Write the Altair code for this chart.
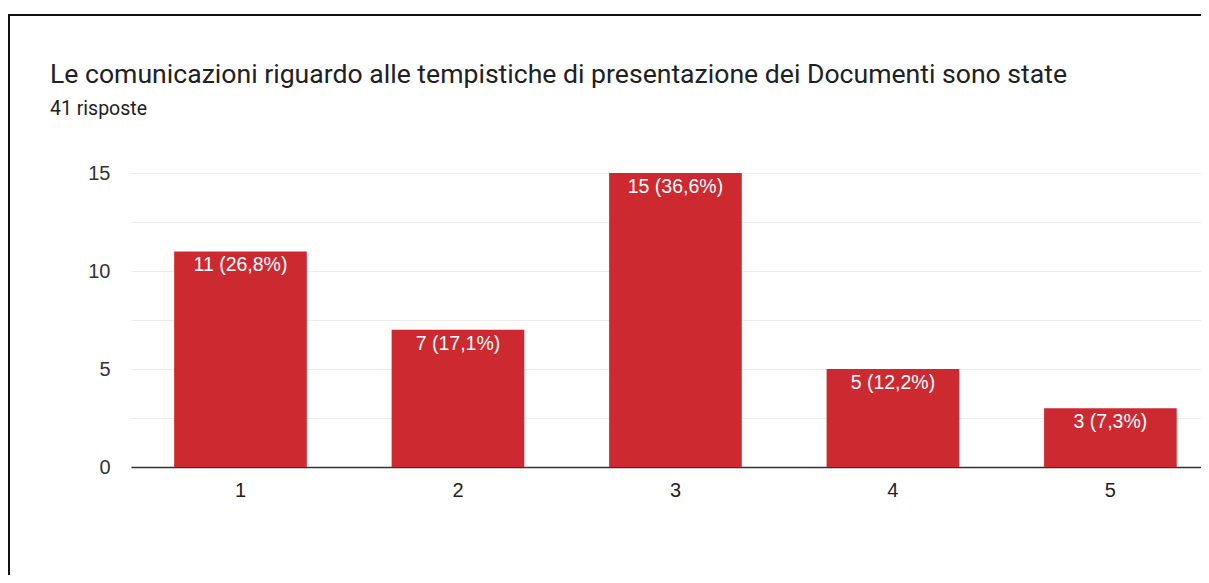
import altair as alt
import pandas as pd

categories = ["1", "2", "3", "4", "5"]
counts = [11, 7, 15, 5, 3]
labels = ["11 (26,8%)", "7 (17,1%)", "15 (36,6%)", "5 (12,2%)", "3 (7,3%)"]
title_text = "Le comunicazioni riguardo alle tempistiche di presentazione dei Documenti sono state"
subtitle_text = "41 risposte"

df = pd.DataFrame({"cat": categories, "n": counts, "lab": labels})

AX_FONT = "Liberation Sans"
RED = "#cc2a30"

x = alt.X("cat:N", title=None, sort=categories,
          scale=alt.Scale(paddingInner=0.39, paddingOuter=0.155, align=0.64),
          axis=alt.Axis(labelAngle=0, ticks=False, domainColor="#333333", domainWidth=1.5,
                        labelPadding=13, labelFontSize=20, labelColor="#222222",
                        labelFont=AX_FONT, labelBaseline="top"))
y = alt.Y("n:Q", title=None,
          scale=alt.Scale(domain=[0, 15], nice=False),
          axis=alt.Axis(values=[0, 2.5, 5, 7.5, 10, 12.5, 15], domain=False, ticks=False,
                        labelExpr="datum.value % 5 == 0 ? datum.label : ''",
                        labelPadding=21, labelFontSize=20, labelColor="#333333",
                        labelFont=AX_FONT, gridColor="#ebebeb", gridWidth=1))

base = alt.Chart(df)

bars = base.mark_bar(color=RED).encode(x=x, y=y)

text = base.mark_text(color="white", baseline="top", dy=5, fontSize=19.5, font=AX_FONT).encode(
    x=alt.X("cat:N", sort=categories), y="n:Q", text="lab:N")

one = pd.DataFrame({"t": [title_text], "s": [subtitle_text]})

border = alt.Chart(one).mark_rect(
    fill="transparent", stroke="#111111", strokeWidth=2, clip=False).encode(
    x=alt.value(-122), y=alt.value(-158), x2=alt.value(1300), y2=alt.value(700))

title = alt.Chart(one).mark_text(
    align="left", baseline="alphabetic", font="Roboto", fontSize=26.6, color="#202124").encode(
    x=alt.value(-81), y=alt.value(-90), text="t:N")

subtitle = alt.Chart(one).mark_text(
    align="left", baseline="alphabetic", font="Roboto", fontSize=19.5, color="#202124").encode(
    x=alt.value(-81), y=alt.value(-58), text="s:N")

chart = alt.layer(bars, text, border, title, subtitle).properties(
    width=1070, height=294,
    padding={"left": 123, "top": 165, "right": 0, "bottom": 108},
    autosize=alt.AutoSizeParams(type="none"),
).configure_view(stroke=None)

chart.save("out.html", embed_options={"renderer": "svg", "actions": False})
